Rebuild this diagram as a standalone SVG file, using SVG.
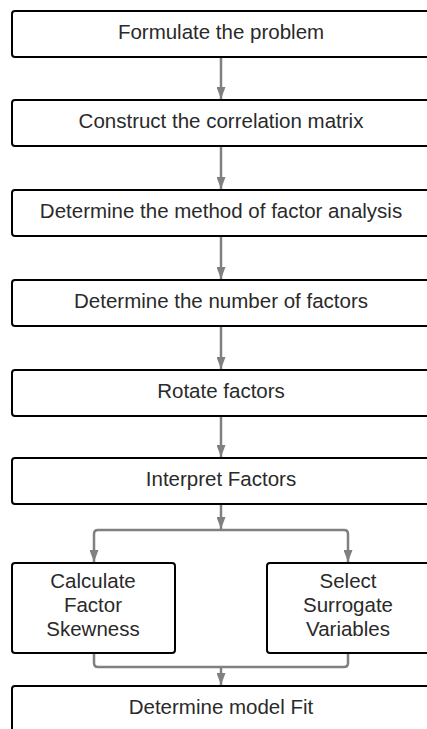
<svg xmlns="http://www.w3.org/2000/svg" width="427" height="729" viewBox="0 0 427 729">
<style>
.box{fill:#fff;stroke:#000;stroke-width:2}
.lbl{font-family:"Liberation Sans",Arial,sans-serif;font-size:20.5px;fill:#2a2a2a;text-anchor:middle}
.con{fill:none;stroke:#808080;stroke-width:2.5}
</style>
<defs>
<marker id="ah" viewBox="0 0 12 9" refX="12" refY="4.5" markerWidth="12" markerHeight="9" markerUnits="userSpaceOnUse" orient="auto">
<path d="M0,0 L12,4.5 L0,9 z" fill="#808080"/>
</marker>
</defs>
<rect width="427" height="729" fill="#fff"/>
<g id="connectors">
<path class="con" d="M221,58 V99" marker-end="url(#ah)"/>
<path class="con" d="M221,147 V189" marker-end="url(#ah)"/>
<path class="con" d="M221,237 V279" marker-end="url(#ah)"/>
<path class="con" d="M221,327 V369" marker-end="url(#ah)"/>
<path class="con" d="M221,416 V457" marker-end="url(#ah)"/>
<path class="con" d="M221,505 V529" marker-end="url(#ah)"/>
<path class="con" d="M221,530 H98 Q94,530 94,534 V562" marker-end="url(#ah)"/>
<path class="con" d="M221,530 H344 Q348,530 348,534 V562" marker-end="url(#ah)"/>
<path class="con" d="M94,654 V663 Q94,667 98,667 H344 Q348,667 348,663 V654"/>
<path class="con" d="M221,667 V685" marker-end="url(#ah)"/>
</g>
<g id="n1"><rect class="box" x="12" y="11" width="418" height="46" rx="3"/><text class="lbl" x="221" y="39">Formulate the problem</text></g>
<g id="n2"><rect class="box" x="12" y="100" width="418" height="46" rx="3"/><text class="lbl" x="221" y="128">Construct the correlation matrix</text></g>
<g id="n3"><rect class="box" x="12" y="190" width="418" height="46" rx="3"/><text class="lbl" x="221" y="218">Determine the method of factor analysis</text></g>
<g id="n4"><rect class="box" x="12" y="280" width="418" height="46" rx="3"/><text class="lbl" x="221" y="308">Determine the number of factors</text></g>
<g id="n5"><rect class="box" x="12" y="370" width="418" height="46" rx="3"/><text class="lbl" x="221" y="398">Rotate factors</text></g>
<g id="n6"><rect class="box" x="12" y="458" width="418" height="46" rx="3"/><text class="lbl" x="221" y="486">Interpret Factors</text></g>
<g id="n7"><rect class="box" x="12" y="563" width="163" height="90" rx="3"/><text class="lbl" x="93" y="588">Calculate</text><text class="lbl" x="93" y="612">Factor</text><text class="lbl" x="93" y="636">Skewness</text></g>
<g id="n8"><rect class="box" x="267" y="563" width="163" height="90" rx="3"/><text class="lbl" x="348" y="588">Select</text><text class="lbl" x="348" y="612">Surrogate</text><text class="lbl" x="348" y="636">Variables</text></g>
<g id="n9"><rect class="box" x="12" y="686" width="418" height="46" rx="3"/><text class="lbl" x="221" y="714">Determine model Fit</text></g>
</svg>
